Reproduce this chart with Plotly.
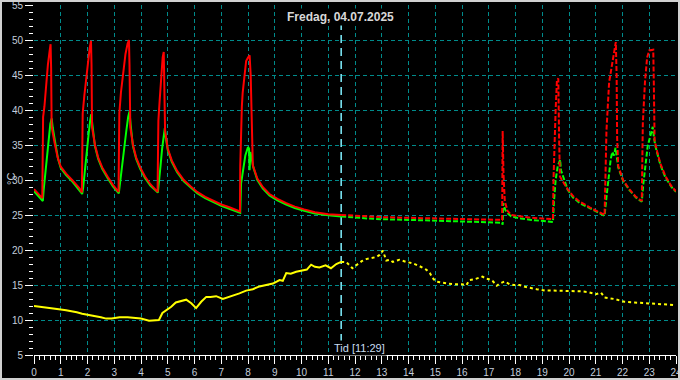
import plotly.graph_objects as go

NOW = 11.483  # 11:29

RED_T = [0.00, 0.10, 0.20, 0.31, 0.32, 0.34, 0.39, 0.45, 0.52, 0.58, 0.62, 0.64, 0.66, 0.77, 0.88, 1.00, 1.20, 1.45, 1.70, 1.79,
         1.80, 1.82, 1.88, 1.95, 2.02, 2.08, 2.13, 2.15, 2.17, 2.28, 2.40, 2.55, 2.75, 2.95, 3.16,
         3.17, 3.19, 3.25, 3.33, 3.42, 3.50, 3.55, 3.57, 3.60, 3.70, 3.82, 3.97, 4.15, 4.35, 4.62,
         4.63, 4.65, 4.70, 4.76, 4.81, 4.85, 4.87, 4.90, 5.00, 5.15, 5.35, 5.60, 5.85, 6.10, 6.40, 6.70, 7.00, 7.30, 7.50, 7.70,
         7.71, 7.73, 7.77, 7.80, 7.87, 7.93, 8.00, 8.06, 8.10, 8.14, 8.18, 8.35, 8.55, 8.80, 9.10, 9.43, 9.75, 10.10, 10.50, 11.00, 11.483,
         12.0, 12.5, 13.0, 13.5, 14.0, 14.5, 15.0, 15.5, 16.0, 16.5, 17.0, 17.5, 17.52, 17.55, 17.60, 17.70, 17.84, 18.2, 18.6, 19.0, 19.4,
         19.42, 19.45, 19.50, 19.55, 19.60, 19.63, 19.66, 19.80, 19.95, 20.15, 20.40, 20.77, 21.00, 21.33,
         21.36, 21.40, 21.50, 21.60, 21.70, 21.75, 21.78, 21.80, 21.84, 22.02, 22.25, 22.50, 22.72,
         22.74, 22.76, 22.84, 22.92, 23.00, 23.15, 23.17, 23.20, 23.30, 23.42, 23.60, 23.83, 24.0]
RED_V = [28.7, 28.3, 27.9, 27.4, 31.4, 39.0, 40.5, 44.0, 46.5, 48.3, 49.4, 46.0, 37.6, 35.3, 33.3, 31.9, 30.9, 29.9, 28.8, 28.2,
         31.5, 39.5, 42.0, 44.5, 47.0, 48.8, 49.9, 46.5, 37.5, 35.0, 33.2, 31.8, 30.5, 29.3, 28.3,
         32.0, 39.5, 42.5, 45.5, 48.0, 49.5, 50.0, 46.5, 37.5, 35.0, 33.2, 31.8, 30.5, 29.4, 28.3,
         32.0, 38.5, 41.5, 45.0, 47.5, 48.3, 45.0, 37.0, 34.5, 32.8, 31.3, 30.0, 29.1, 28.3, 27.6, 27.0, 26.5, 26.1, 25.8, 25.5,
         32.0, 36.9, 40.5, 42.4, 45.2, 47.0, 47.5, 47.8, 45.0, 36.7, 32.1, 30.2, 29.0, 28.0, 27.3, 26.7, 26.2, 25.8, 25.4, 25.1, 25.0,
         24.85, 24.8, 24.7, 24.7, 24.6, 24.55, 24.5, 24.45, 24.4, 24.35, 24.3, 24.3, 37.0, 31.0, 27.0, 25.6, 25.0, 24.8, 24.6, 24.5, 24.4,
         30.0, 35.3, 40.0, 44.3, 44.5, 36.0, 30.5, 29.6, 28.7, 27.7, 26.9, 26.1, 25.6, 25.0,
         30.0, 37.0, 44.0, 46.5, 49.0, 49.7, 45.0, 36.0, 32.0, 30.0, 28.7, 27.6, 27.0,
         33.0, 38.1, 44.0, 47.5, 48.5, 48.6, 44.0, 35.7, 34.0, 32.3, 30.6, 29.1, 28.4]

GREEN_T = [0.00, 0.10, 0.20, 0.33, 0.36, 0.42, 0.48, 0.55, 0.61, 0.66, 0.70, 0.80, 0.90, 1.00, 1.20, 1.45, 1.70, 1.80,
           1.84, 1.90, 1.97, 2.04, 2.10, 2.14, 2.18, 2.28, 2.40, 2.55, 2.75, 2.95, 3.17,
           3.21, 3.28, 3.36, 3.45, 3.52, 3.57, 3.61, 3.70, 3.82, 3.97, 4.15, 4.35, 4.63,
           4.67, 4.73, 4.79, 4.85, 4.89, 4.93, 5.00, 5.15, 5.35, 5.60, 5.85, 6.10, 6.40, 6.70, 7.00, 7.30, 7.50, 7.71,
           7.74, 7.82, 7.90, 8.00, 8.04, 8.06, 8.09, 8.14, 8.20, 8.35, 8.55, 8.80, 9.10, 9.43, 9.75, 10.10, 10.50, 11.00, 11.483,
           12.0, 12.5, 13.0, 13.5, 14.0, 14.5, 15.0, 15.5, 16.0, 16.5, 17.0, 17.5, 17.52, 17.54, 17.62, 17.72, 17.84, 18.2, 18.6, 19.0, 19.4,
           19.44, 19.50, 19.58, 19.67, 19.70, 19.80, 19.95, 20.15, 20.40, 20.77, 21.00, 21.33,
           21.40, 21.48, 21.56, 21.62, 21.68, 21.74, 21.78, 21.84, 22.02, 22.25, 22.50, 22.72,
           22.78, 22.86, 22.94, 23.00, 23.08, 23.13, 23.18, 23.22, 23.30, 23.42, 23.60, 23.83, 24.0]
GREEN_V = [28.4, 28.0, 27.6, 27.0, 28.5, 31.0, 33.5, 36.0, 38.0, 38.8, 37.5, 35.2, 33.0, 31.7, 30.7, 29.7, 28.6, 28.0,
           29.0, 31.5, 34.0, 36.5, 38.5, 39.4, 38.0, 34.8, 33.0, 31.6, 30.3, 29.1, 28.1,
           29.5, 32.0, 34.5, 37.0, 39.0, 39.8, 38.0, 34.8, 33.0, 31.6, 30.3, 29.2, 28.2,
           29.5, 32.0, 34.5, 36.5, 37.4, 36.0, 34.3, 32.6, 31.1, 29.8, 28.9, 28.1, 27.4, 26.8, 26.3, 25.9, 25.6, 25.3,
           29.5, 31.5, 33.5, 34.7, 34.5, 31.4, 34.0, 33.0, 31.8, 30.0, 28.8, 27.8, 27.1, 26.5, 26.0, 25.6, 25.2, 24.95, 24.8,
           24.6, 24.5, 24.4, 24.4, 24.3, 24.25, 24.2, 24.15, 24.1, 24.05, 24.0, 23.9, 23.6, 26.7, 25.7, 25.2, 24.8, 24.5, 24.3, 24.1, 24.0,
           27.0, 30.0, 32.0, 32.9, 31.4, 30.2, 28.6, 27.5, 26.7, 26.0, 25.5, 24.9,
           27.5, 30.5, 33.0, 34.0, 33.5, 34.6, 33.5, 31.8, 29.9, 28.6, 27.5, 26.9,
           29.5, 32.5, 34.8, 35.7, 36.8, 37.6, 36.0, 35.0, 33.8, 32.1, 30.4, 29.0, 28.3]

YELLOW_T = [0.0, 0.25, 0.5, 0.75, 1.0, 1.2, 1.4, 1.6, 1.8, 2.0, 2.2, 2.5, 2.7, 2.9, 3.2, 3.5, 3.8, 4.0, 4.3, 4.5, 4.67, 4.8,
            5.0, 5.13, 5.3, 5.5, 5.69, 5.88, 6.06, 6.25, 6.44, 6.6, 6.81, 7.06, 7.3, 7.5, 7.68, 7.93, 8.18, 8.43, 8.7, 8.93,
            9.18, 9.3, 9.43, 9.6, 9.8, 10.05, 10.2, 10.36, 10.5, 10.67, 10.9, 11.1, 11.3, 11.483,
            11.67, 11.9, 12.1, 12.25, 12.42, 12.6, 12.8, 12.92, 13.04, 13.17, 13.3, 13.41, 13.66, 13.91, 14.16, 14.41, 14.66,
            14.8, 14.9, 15.03, 15.27, 15.5, 15.7, 16.0, 16.16, 16.28, 16.45, 16.58, 16.77, 16.9, 17.03, 17.14, 17.3, 17.4,
            17.59, 17.78, 17.95, 18.15, 18.4, 18.79, 19.1, 19.4, 19.65, 19.9, 20.2, 20.45, 20.7, 21.0, 21.2, 21.33, 21.7,
            22.07, 22.45, 23.0, 23.38, 23.7, 24.0]
YELLOW_V = [12.0, 11.9, 11.8, 11.7, 11.5, 11.4, 11.3, 11.1, 10.9, 10.7, 10.6, 10.4, 10.2, 10.2, 10.4, 10.4, 10.3, 10.2, 9.9, 10.0, 10.0, 11.0,
            11.5, 11.9, 12.5, 12.7, 12.9, 12.4, 11.7, 12.6, 13.3, 13.3, 13.4, 13.0, 13.3, 13.5, 13.8, 14.2, 14.4, 14.8, 15.0, 15.2,
            15.7, 15.6, 16.7, 16.6, 16.9, 17.1, 17.2, 17.9, 17.6, 17.5, 17.8, 17.4, 18.0, 18.3,
            18.3, 17.4, 18.0, 18.4, 18.7, 18.8, 19.0, 19.3, 19.9, 18.5, 18.6, 18.3, 18.6, 18.3, 18.1, 17.7, 17.2,
            16.7, 16.0, 15.5, 15.3, 15.2, 15.1, 15.1, 14.95, 15.7, 15.8, 16.0, 16.2, 15.9, 15.8, 15.6, 14.9, 15.2,
            15.5, 15.1, 15.0, 15.0, 14.7, 14.4, 14.2, 14.2, 14.2, 14.2, 14.2, 14.1, 14.0, 13.7, 13.9, 13.2, 13.0,
            12.6, 12.5, 12.4, 12.3, 12.2, 12.1]

X_TICKS = list(range(0, 25))
X_GRID = list(range(1, 24))
Y_TICKS = list(range(5, 56, 5))
Y_GRID = list(range(10, 51, 5))

TITLE = "Fredag, 04.07.2025"
NOW_LABEL = "Tid [11:29]"
Y_TITLE = "°C"

TICK_COLOR = "#c4cedc"
GRID_COLOR = "#008b8b"

# plot-area geometry in pixels (figure 680 x 380)
L, R, T, B = 34, 4, 5, 25
PW, PH = 680 - L - R, 380 - T - B


def px_x(px):
    return (px - L) / PW


def px_y(py):
    return (380 - B - py) / PH


def split(t, v):
    past = [(a, b) for a, b in zip(t, v) if a <= NOW]
    fut = [(a, b) for a, b in zip(t, v) if a >= NOW]
    return ([p[0] for p in past], [p[1] for p in past]), ([p[0] for p in fut], [p[1] for p in fut])


fig = go.Figure()

# yellow lives on the base (grid) axes, red/green on the overlay axes
series = [
    (YELLOW_T, YELLOW_V, "#ffff00", 2, "3px,3px", "x", "y"),
    (GREEN_T, GREEN_V, "#00ff00", 2, "5px,2px", "x2", "y2"),
    (RED_T, RED_V, "#ff0000", 2, "5px,2px", "x2", "y2"),
]
for t, v, col, w, dash, xa, ya in series:
    (pt, pv), (ft, fv) = split(t, v)
    fig.add_trace(go.Scatter(x=pt, y=pv, mode="lines", line=dict(color=col, width=w),
                             xaxis=xa, yaxis=ya, showlegend=False, hoverinfo="skip"))
    fig.add_trace(go.Scatter(x=ft, y=fv, mode="lines", line=dict(color=col, width=w, dash=dash),
                             xaxis=xa, yaxis=ya, showlegend=False, hoverinfo="skip"))

fig.add_shape(type="line", xref="x", yref="paper", x0=NOW, x1=NOW, y0=0, y1=1,
              line=dict(color="#80f0ff", width=1.5, dash="8px,5px"), layer="between")

# outer frame
fig.add_shape(type="rect", xref="paper", yref="paper",
              x0=px_x(1), x1=px_x(679), y0=px_y(379), y1=px_y(1),
              line=dict(color="#d0d0d0", width=2), layer="above")

fig.add_annotation(text=TITLE, xref="paper", yref="paper", x=px_x(340), y=px_y(17),
                   xanchor="center", yanchor="middle", showarrow=False, bgcolor="black",
                   font=dict(family="Liberation Sans", size=12, color="#d8d8d8", weight="bold"))
fig.add_annotation(text=NOW_LABEL, xref="x", yref="paper", x=NOW, xshift=18, y=px_y(348),
                   xanchor="center", yanchor="middle", showarrow=False, bgcolor="black",
                   font=dict(family="Liberation Sans", size=11, color="#c8dcf0"))
fig.add_annotation(text=Y_TITLE, xref="paper", yref="paper", x=px_x(11), y=px_y(179),
                   xanchor="center", yanchor="middle", showarrow=False, textangle=-90,
                   font=dict(family="Liberation Sans", size=11, color=TICK_COLOR))

tickfont = dict(family="Liberation Sans", size=10, color=TICK_COLOR)
grid = dict(showgrid=True, gridcolor=GRID_COLOR, griddash="4px,3px", gridwidth=1)

fig.update_layout(
    width=680, height=380,
    margin=dict(l=L, r=R, t=T, b=B, autoexpand=False),
    paper_bgcolor="black", plot_bgcolor="black",
    # base axes: grid only
    xaxis=dict(range=[0, 24], tickvals=X_GRID, showticklabels=False, ticks="", zeroline=False,
               automargin=False, showline=False, **grid),
    yaxis=dict(range=[5, 55], tickvals=Y_GRID, showticklabels=False, ticks="", zeroline=False,
               automargin=False, showline=False, **grid),
    # overlay axes: ticks, labels
    xaxis2=dict(range=[0, 24], overlaying="x", side="bottom", anchor="y2", tickvals=X_TICKS, ticks="outside",
                ticklen=8, tickcolor="white", tickwidth=1, showline=True, linecolor="white", linewidth=1,
                zeroline=False, automargin=False, showgrid=False, ticklabeloverflow="allow",
                minor=dict(dtick=0.2, tick0=0, ticks="outside", ticklen=4, tickcolor="white", showgrid=False),
                tickfont=tickfont),
    yaxis2=dict(range=[5, 55], overlaying="y", side="left", anchor="x2", tickvals=Y_TICKS, ticks="outside",
                ticklen=8, tickcolor="white", tickwidth=1, showgrid=False, zeroline=False, showline=False,
                automargin=False, ticklabeloverflow="allow",
                minor=dict(dtick=1, tick0=5, ticks="outside", ticklen=4, tickcolor="white", showgrid=False),
                tickfont=tickfont),
)

fig.write_html("out.html", config={"displayModeBar": False},
               post_script="document.body.style.margin='0';document.body.style.overflow='hidden';")
